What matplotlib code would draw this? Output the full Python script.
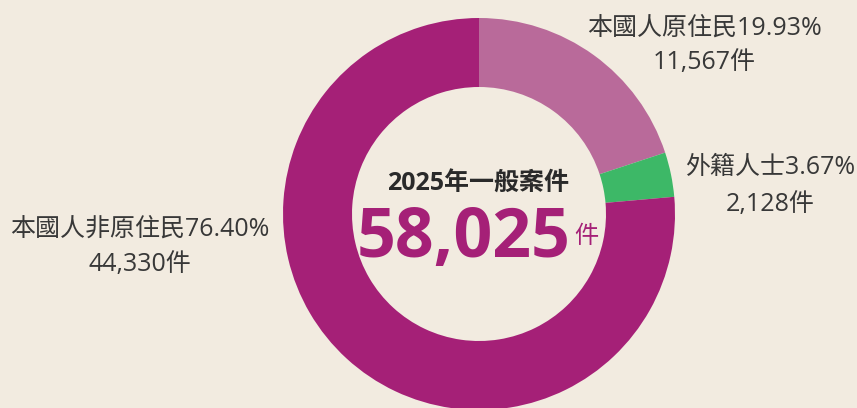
import matplotlib
matplotlib.use("Agg")
import matplotlib.pyplot as plt

plt.rcParams['font.family'] = ['Open Sans', 'Noto Sans CJK TC', 'DejaVu Sans']

categories = ["本國人原住民", "外籍人士", "本國人非原住民"]
percents = [19.93, 3.67, 76.40]
counts = ["11,567", "2,128", "44,330"]
colors = ["#B96A9A", "#3DB867", "#A52077"]
center_title = "2025年一般案件"
total_text = "58,025"
unit = "件"

W, H = 857, 408
BG = "#F2EBE0"
TXT = "#383838"

fig = plt.figure(figsize=(W / 100, H / 100), dpi=100, facecolor=BG)
ax = fig.add_axes([0, 0, 1, 1])
ax.set_facecolor(BG)

def Y(y):
    return H - y

cx, cy, R, w = 479, Y(214), 196, 69
ax.pie(percents, colors=colors, startangle=90, counterclock=False,
       center=(cx, cy), radius=R, frame=True,
       wedgeprops=dict(width=w, linewidth=0.6, edgecolor=None))
ax.set_xlim(0, W)
ax.set_ylim(0, H)
ax.set_aspect('equal')
ax.axis('off')

label_pos = [(704, 28, 62), (770, 168, 204), (140, 229, 264)]
for (x, y1, y2), cat, p, c in zip(label_pos, categories, percents, counts):
    ax.text(x, Y(y1), f"{cat}{p:.2f}%", ha='center', va='center', fontsize=18, color=TXT)
    ax.text(x, Y(y2), f"{c}{unit}", ha='center', va='center', fontsize=18, color=TXT)

ax.text(478, Y(184), center_title, ha='center', va='center', fontsize=18,
        fontweight='bold', color="#2A2A2A")
ax.text(571, Y(257), total_text, ha='right', va='baseline', fontsize=49,
        fontweight='bold', color="#A52077")
ax.text(574, Y(237), unit, ha='left', va='center', fontsize=17.5, color="#A52077")

fig.savefig("out.png", dpi=100, facecolor=BG)
